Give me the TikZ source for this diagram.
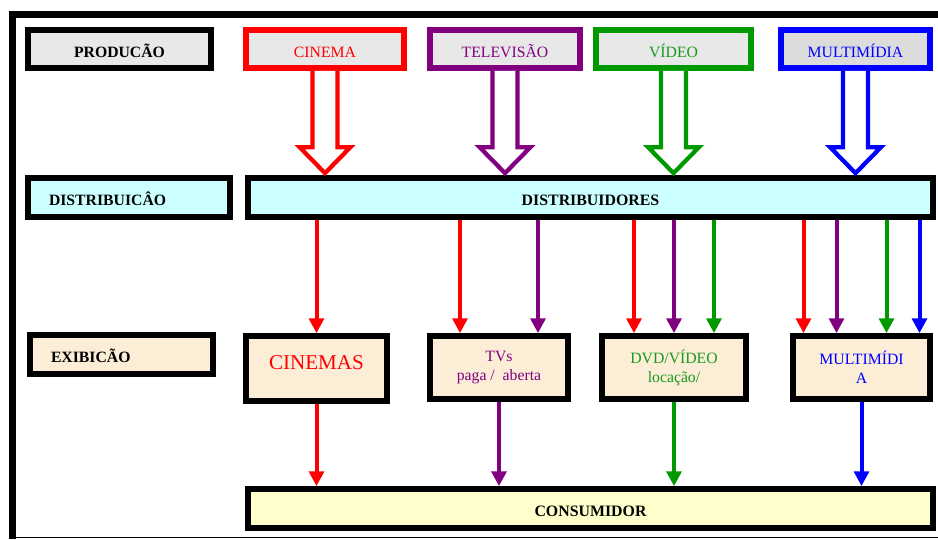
\documentclass[tikz,border=0pt]{standalone}
\usepackage{fontspec}
\setmainfont{Liberation Serif}
\usepackage{tikz}
\usetikzlibrary{arrows.meta, calc}

\definecolor{tvpurple}{HTML}{800080}
\definecolor{vidgreen}{HTML}{009900}
\definecolor{vidtext}{HTML}{1A991A}
\definecolor{prodgray}{HTML}{E8E8E8}
\definecolor{multgray}{HTML}{DCDCDC}
\definecolor{distcyan}{HTML}{CCFFFF}
\definecolor{exibfill}{HTML}{FBEDD6}
\definecolor{consfill}{HTML}{FFFFCC}

\begin{document}
\begin{tikzpicture}[x=0.75pt, y=-0.75pt,
  box/.style={draw, line width=4.3pt, inner sep=0pt, align=center, font=\fontsize{11.8}{14.2}\selectfont},
  low/.style={text height=12pt, text depth=0pt},
  prodbox/.style={box, low, fill=prodgray, minimum height=28.5pt},
  bar/.style={box, low, minimum width=513.75pt, minimum height=29.25pt, font=\fontsize{11.9}{14}\selectfont\bfseries},
  label/.style={box, low, minimum height=29.25pt, inner xsep=15.75pt, align=left, font=\fontsize{11.8}{14}\selectfont\bfseries},
  exbox/.style={box, fill=exibfill, minimum height=47.25pt},
  hol/.style={line width=3.2pt, fill=white, line join=miter},
  arr/.style={-{Triangle[length=11pt, width=11pt]}, line width=3pt}
]
\useasboundingbox (0,0) rectangle (938,539);

% moldura
\draw[line width=5.25pt] (938,14.5) -- (12.5,14.5) -- (12.5,539);
\draw[line width=0.8pt] (12.5,537.5) -- (938,537.5);

% linha da producao
\node[prodbox, font=\fontsize{11.8}{14}\selectfont\bfseries, minimum width=137.25pt] (prod) at (119.5,49) {PRODUCÃO};
\node[prodbox, draw=red, text=red, minimum width=118.5pt] (cin) at (325,49) {CINEMA};
\node[prodbox, draw=tvpurple, text=tvpurple, minimum width=112.5pt] (tel) at (505,49) {TELEVISÃO};
\node[prodbox, draw=vidgreen, text=vidtext, minimum width=116.25pt] (vid) at (673.5,49) {VÍDEO};
\node[prodbox, draw=blue, fill=multgray, text=blue, minimum width=111.75pt] (mul) at (855.5,49) {MULTIMÍDIA};

% linha da distribuicao
\node[label, fill=distcyan, text width=120pt] (distr) at (129,197.5) {DISTRIBUICÂO};
\node[bar, fill=distcyan] (dist) at (590.5,197.5) {DISTRIBUIDORES};

% setas ocas
\foreach \n/\c in {cin/red, tel/tvpurple, vid/vidgreen, mul/blue} {
  \coordinate (tip) at ($(\n.south |- dist.north)+(0,-2)$);
  \draw[hol, draw=\c] ($(\n.south)+(-12.5,0)$) -- ($(tip)+(-12.5,-26)$) -- ($(tip)+(-25.5,-26)$)
    -- (tip) -- ($(tip)+(25.5,-26)$) -- ($(tip)+(12.5,-26)$) -- ($(\n.south)+(12.5,0)$);
}

% linha da exibicao
\node[label, fill=exibfill, text width=105.75pt] (exib) at (121.5,354.5) {EXIBICÃO};
\node[exbox, minimum width=105.75pt, minimum height=48.75pt, text=red, text depth=9pt, font=\fontsize{15.8}{18}\selectfont] (cinemas) at (316.5,368.5) {CINEMAS};
\node[exbox, minimum width=103.5pt, text=tvpurple] (tvs) at (499,367.5) {TVs\\paga /\ \ aberta};
\node[exbox, minimum width=108pt, text=vidtext] (dvd) at (674,367.5) {DVD/VÍDEO\\locação/};
\node[exbox, minimum width=102.75pt, text=blue] (mm) at (861.5,367.5) {MULTIMÍDI\\A};

% consumidor
\node[bar, fill=consfill] (cons) at (590.5,508.5) {CONSUMIDOR};

% distribuidores -> exibicao
\draw[arr, red] (dist.south -| cinemas.north) -- (cinemas.north);
\foreach \x/\c in {-39/red, 39/tvpurple} {
  \coordinate (e) at ($(tvs.north)+(\x,0)$);
  \draw[arr, \c] (dist.south -| e) -- (e);
}
\foreach \x/\c in {-40/red, 0/tvpurple, 40/vidgreen} {
  \coordinate (e) at ($(dvd.north)+(\x,0)$);
  \draw[arr, \c] (dist.south -| e) -- (e);
}
\foreach \x/\c in {-58/red, -25/tvpurple, 25/vidgreen, 58/blue} {
  \coordinate (e) at ($(mm.north)+(\x,0)$);
  \draw[arr, \c] (dist.south -| e) -- (e);
}

% exibicao -> consumidor
\draw[arr, red] (cinemas.south) -- (cinemas.south |- cons.north);
\draw[arr, tvpurple] (tvs.south) -- (tvs.south |- cons.north);
\draw[arr, vidgreen] (dvd.south) -- (dvd.south |- cons.north);
\draw[arr, blue] (mm.south) -- (mm.south |- cons.north);
\end{tikzpicture}
\end{document}
